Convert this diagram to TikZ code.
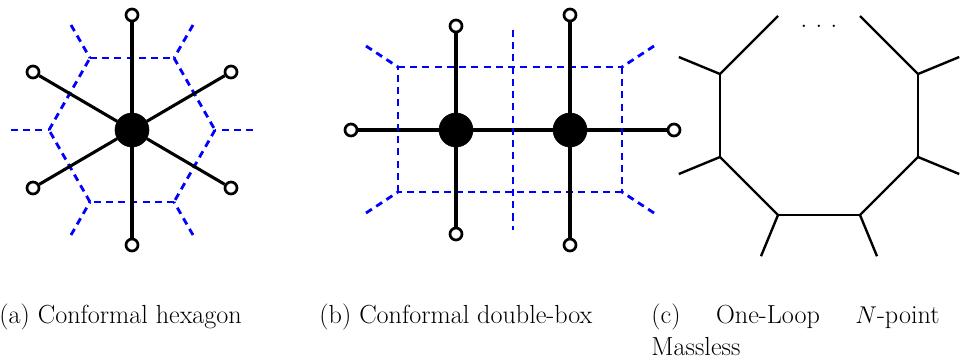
\documentclass[tikz,border=0pt]{standalone}
\usepackage{tikz}
\usetikzlibrary{positioning}
\definecolor{cutblue}{RGB}{0,0,255}

\begin{document}
\begin{tikzpicture}[
  on grid,
  hubdot/.style={circle, fill=black, draw=black, minimum size=0.85cm, inner sep=0pt},
  extdot/.style={circle, fill=white, draw=black, line width=1.9pt, minimum size=0.3cm, inner sep=0pt},
  leg/.style={line width=2.2pt, black},
  cut/.style={line width=2pt, cutblue, dash pattern=on 5pt off 3.7pt},
  ring/.style={line width=1.7pt, black},
  capt/.style={font=\fontsize{18.6}{22.7}\selectfont, inner sep=0pt, anchor=base west}
]
\useasboundingbox (0,0) rectangle (24.075,-9.05);

% hexagon
\node[hubdot] (hex) at (3.3,-3.25) {};
\node[extdot, above=2.875cm of hex] (hn) {};
\node[extdot, below=2.875cm of hex] (hs) {};
\node[extdot, above left=1.45cm and 2.475cm of hex] (hnw) {};
\node[extdot, above right=1.45cm and 2.475cm of hex] (hne) {};
\node[extdot, below left=1.45cm and 2.475cm of hex] (hsw) {};
\node[extdot, below right=1.45cm and 2.475cm of hex] (hse) {};
\coordinate[left=2.075cm of hex] (cw);
\coordinate[right=2.075cm of hex] (ce);
\coordinate[above left=1.8cm and 1.05cm of hex] (cnw);
\coordinate[above right=1.8cm and 1.05cm of hex] (cne);
\coordinate[below left=1.8cm and 1.05cm of hex] (csw);
\coordinate[below right=1.8cm and 1.05cm of hex] (cse);
\coordinate[left=0.95cm of cw] (xw);
\coordinate[right=0.95cm of ce] (xe);
\coordinate[above left=0.825cm and 0.475cm of cnw] (xnw);
\coordinate[above right=0.825cm and 0.475cm of cne] (xne);
\coordinate[below left=0.825cm and 0.475cm of csw] (xsw);
\coordinate[below right=0.825cm and 0.475cm of cse] (xse);

\draw[cut] (cnw) -- (cne);
\draw[cut] (cne) -- (ce);
\draw[cut] (ce) -- (cse);
\draw[cut] (cse) -- (csw);
\draw[cut] (csw) -- (cw);
\draw[cut] (cw) -- (cnw);
\draw[cut] (xw) -- (cw);
\draw[cut] (xe) -- (ce);
\draw[cut] (xnw) -- (cnw);
\draw[cut] (xne) -- (cne);
\draw[cut] (xsw) -- (csw);
\draw[cut] (xse) -- (cse);
\draw[leg] (hex) -- (hn);
\draw[leg] (hex) -- (hs);
\draw[leg] (hex) -- (hnw);
\draw[leg] (hex) -- (hne);
\draw[leg] (hex) -- (hsw);
\draw[leg] (hex) -- (hse);

% double box
\node[hubdot] (bl) at (11.4,-3.25) {};
\node[hubdot, right=2.85cm of bl] (br) {};
\node[extdot, above=2.6cm of bl] (bln) {};
\node[extdot, below=2.6cm of bl] (bls) {};
\node[extdot, above=2.875cm of br] (brn) {};
\node[extdot, below=2.875cm of br] (brs) {};
\node[extdot, left=2.625cm of bl] (blw) {};
\node[extdot, right=2.6cm of br] (bre) {};
\coordinate[above left=1.575cm and 1.45cm of bl] (dnw);
\coordinate[below left=1.55cm and 1.45cm of bl] (dsw);
\coordinate[above right=1.575cm and 1.3cm of br] (dne);
\coordinate[below right=1.55cm and 1.3cm of br] (dse);
\coordinate[above left=0.525cm and 0.8cm of dnw] (ynw);
\coordinate[below left=0.525cm and 0.8cm of dsw] (ysw);
\coordinate[above right=0.525cm and 0.8cm of dne] (yne);
\coordinate[below right=0.525cm and 0.8cm of dse] (yse);
\coordinate[above right=2.5cm and 1.425cm of bl] (dtop);
\coordinate[below right=2.5cm and 1.425cm of bl] (dbot);

\draw[leg] (blw) -- (bl);
\draw[leg] (bl) -- (br);
\draw[leg] (br) -- (bre);
\draw[cut] (dnw) -- (dne);
\draw[cut] (dne) -- (dse);
\draw[cut] (dse) -- (dsw);
\draw[cut] (dsw) -- (dnw);
\draw[cut] (ynw) -- (dnw);
\draw[cut] (ysw) -- (dsw);
\draw[cut] (yne) -- (dne);
\draw[cut] (yse) -- (dse);
\draw[cut] (dtop) -- (dbot);
\draw[leg] (bl) -- (bln);
\draw[leg] (bl) -- (bls);
\draw[leg] (br) -- (brn);
\draw[leg] (br) -- (brs);

% massless loop
\coordinate (onw) at (18,-1.85);
\coordinate[below=2.075cm of onw] (osw);
\coordinate[right=4.95cm of onw] (one);
\coordinate[right=4.95cm of osw] (ose);
\coordinate[below right=1.45cm and 1.45cm of osw] (obl);
\coordinate[below left=1.45cm and 1.45cm of ose] (obr);
\coordinate[above right=1.45cm and 1.45cm of onw] (otl);
\coordinate[above left=1.45cm and 1.45cm of one] (otr);
\coordinate[above left=0.425cm and 1.03cm of onw] (lnw);
\coordinate[below left=0.425cm and 1.03cm of osw] (lsw);
\coordinate[above right=0.425cm and 1.03cm of one] (lne);
\coordinate[below right=0.425cm and 1.03cm of ose] (lse);
\coordinate[below left=1.03cm and 0.425cm of obl] (lbl);
\coordinate[below right=1.03cm and 0.425cm of obr] (lbr);
\node[inner sep=0pt, font=\fontsize{18.6}{20}\selectfont] (odots) at (20.475,-0.67) {$.\hspace{0.21cm}.\hspace{0.21cm}.$};

\draw[ring] (otl) -- (onw);
\draw[ring] (onw) -- (osw);
\draw[ring] (osw) -- (obl);
\draw[ring] (obl) -- (obr);
\draw[ring] (obr) -- (ose);
\draw[ring] (ose) -- (one);
\draw[ring] (one) -- (otr);
\draw[ring] (onw) -- (lnw);
\draw[ring] (osw) -- (lsw);
\draw[ring] (one) -- (lne);
\draw[ring] (ose) -- (lse);
\draw[ring] (obl) -- (lbl);
\draw[ring] (obr) -- (lbr);

% captions
\node[capt] (capa) at (-0.02,-8.08) {(a) Conformal hexagon};
\node[capt] (capb) at (7.98,-8.08) {(b) Conformal double-box};
\node[capt, text width=7.2cm, align=justify] (capc) at (16.28,-8.08) {(c) One-Loop $N$-point \mbox{Massless}};
\end{tikzpicture}
\end{document}
